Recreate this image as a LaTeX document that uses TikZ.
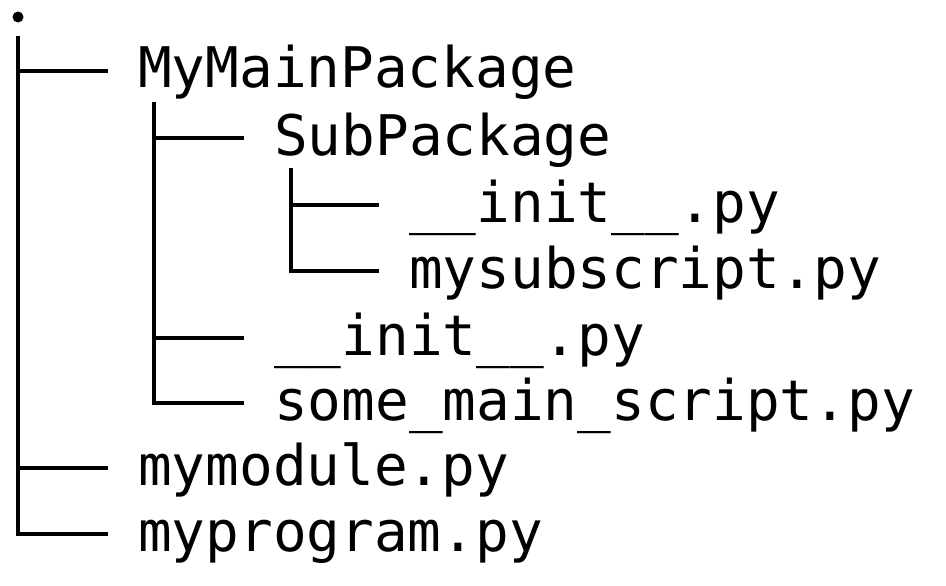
\documentclass[tikz,border=0pt]{standalone}
\usepackage{fontspec}
\setmonofont{DejaVu Sans Mono}
\usetikzlibrary{calc}
\tikzset{
  dir/entry/.style={
    anchor=west,
    inner xsep=0pt,
    inner ysep=0pt,
    text height=40pt,
    text depth=6pt,
    font=\ttfamily\fontsize{56}{66}\selectfont
  },
  dir/root/.style={circle, fill=black, inner sep=0pt, minimum size=11pt},
  dir/branch/.style={line width=4.5pt, line cap=butt, line join=miter, shorten >=30pt}
}

\begin{document}
\begin{tikzpicture}[x=1pt,y=-1pt]
  \useasboundingbox (0,0) rectangle (946,586);
  % entries
  \node[dir/root] (root) at (18,17) {};
  \node[dir/entry] (main) at (138,71) {MyMainPackage};
  \node[dir/entry] (sub) at (274,138) {SubPackage};
  \node[dir/entry] (subinit) at (409,205) {\_\_init\_\_.py};
  \node[dir/entry] (subscript) at (409,271) {mysubscript.py};
  \node[dir/entry] (maininit) at (274,338) {\_\_init\_\_.py};
  \node[dir/entry] (mainscript) at (274,403) {some\_main\_script.py};
  \node[dir/entry] (module) at (138,468) {mymodule.py};
  \node[dir/entry] (program) at (138,534) {myprogram.py};
  % where the vertical lines start
  \coordinate (rootTop) at ($(root.center)+(0,19)$);
  \coordinate (mainTop) at ([xshift=16pt,yshift=-31pt]main.west);
  \coordinate (subTop) at ([xshift=17pt,yshift=-30pt]sub.west);
  % branches
  \draw[dir/branch] (rootTop) |- (main.west);
  \draw[dir/branch] (mainTop) |- (sub.west);
  \draw[dir/branch] (subTop) |- (subinit.west);
  \draw[dir/branch] (subTop) |- (subscript.west);
  \draw[dir/branch] (mainTop) |- (maininit.west);
  \draw[dir/branch] (mainTop) |- (mainscript.west);
  \draw[dir/branch] (rootTop) |- (module.west);
  \draw[dir/branch] (rootTop) |- (program.west);
\end{tikzpicture}
\end{document}
